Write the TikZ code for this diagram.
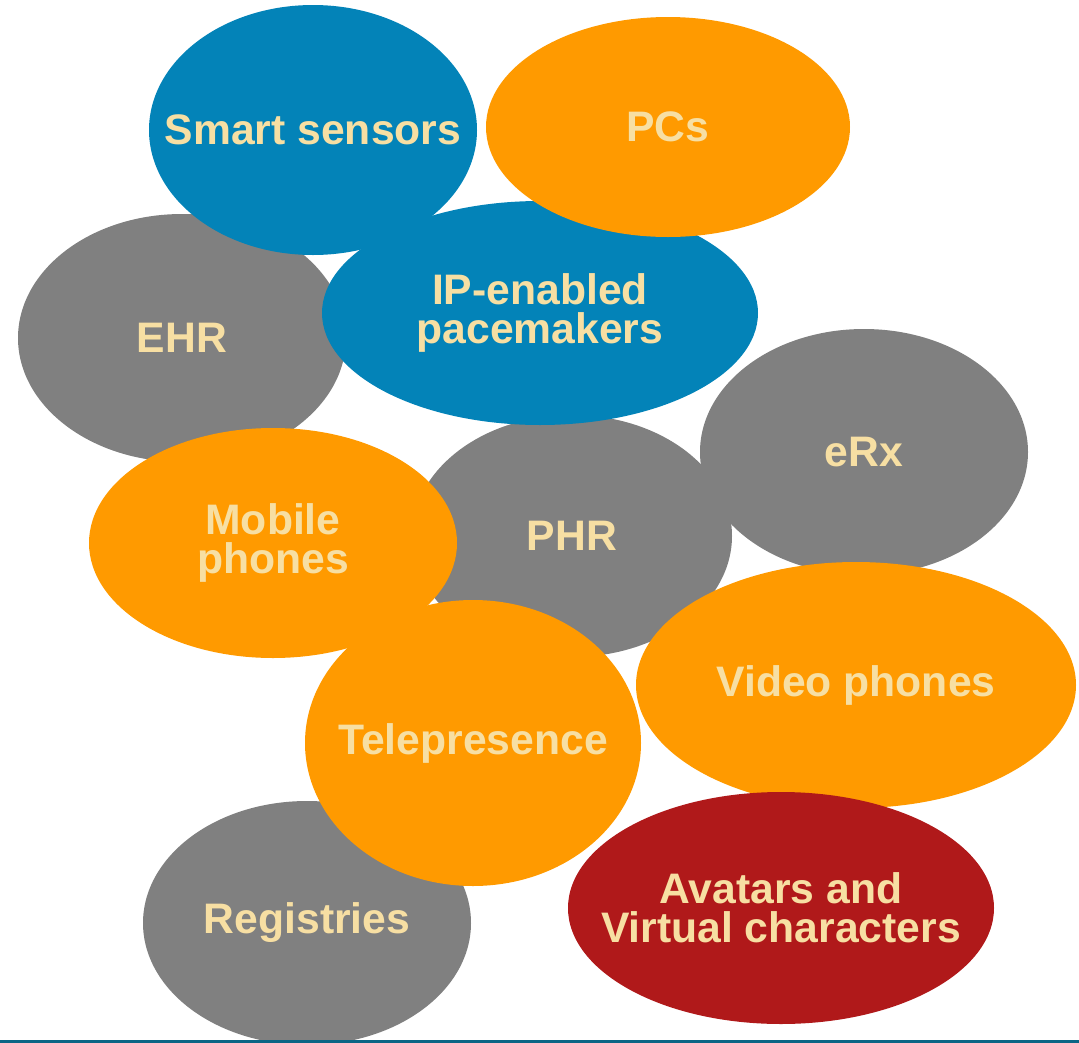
\documentclass[tikz,border=0pt]{standalone}
\usepackage{fontspec}
\setmainfont{Liberation Sans}
\usetikzlibrary{shapes.geometric}
\definecolor{blobblue}{HTML}{0383B8}
\definecolor{blobgray}{HTML}{808080}
\definecolor{bloborange}{HTML}{FF9A00}
\definecolor{blobred}{HTML}{B0191A}
\definecolor{labeltan}{HTML}{F7DFA3}
\definecolor{rulecolor}{HTML}{0A6585}
\begin{document}
\begin{tikzpicture}[x=0.75pt,y=-0.75pt,
  blob/.style={ellipse, inner sep=0pt, draw=none},
  lbl/.style={text=labeltan, font=\fontsize{32}{29}\selectfont\bfseries, align=center, inner sep=0pt}]
\useasboundingbox (0,0) rectangle (1079,1043);
% back to front
\foreach \n/\x/\y/\rx/\ry/\c/\t in {
  ehr/182/338/164/124/blobgray/EHR,
  sensors/313/130/164/125/blobblue/Smart sensors,
  phr/572/536/160/121/blobgray/PHR,
  pacer/540/313/218/112/blobblue/{IP-enabled\\pacemakers},
  pcs/668/127/182/110/bloborange/PCs,
  erx/864/452/164/123/blobgray/eRx,
  mobile/273/543/184/115/bloborange/{Mobile\\phones},
  registries/307/923/164/122/blobgray/Registries,
  telepresence/473/743/168/143/bloborange/Telepresence,
  video/856/685/220/123/bloborange/Video phones,
  avatars/781/908/213/116/blobred/{Avatars and\\Virtual characters}}{
  \node[blob, fill=\c, minimum width=\rx*1.5pt, minimum height=\ry*1.5pt] (\n) at (\x,\y) {};
  \node[lbl] (\n-text) at (\n) {\t};
}
\fill[rulecolor] (0,1039.5) rectangle (1079,1043);
\end{tikzpicture}
\end{document}
